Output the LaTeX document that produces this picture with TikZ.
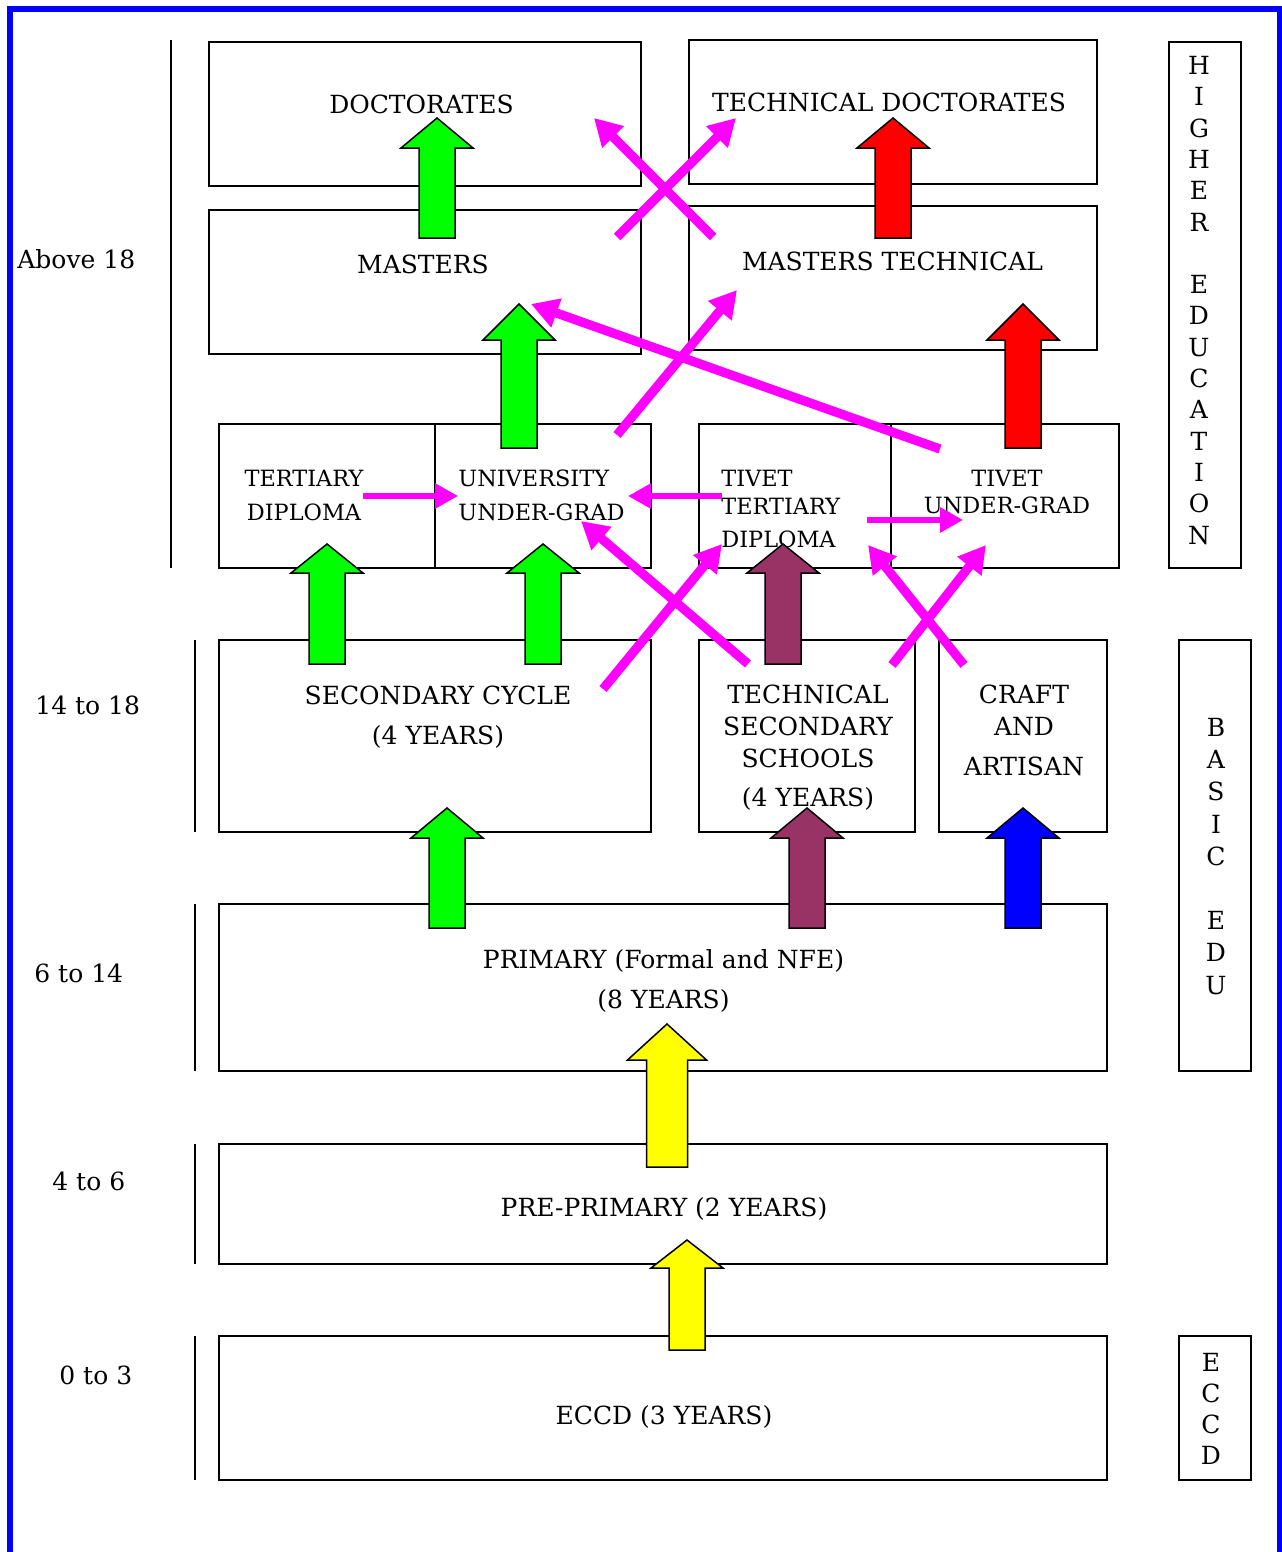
\documentclass[tikz,border=0pt]{standalone}
\usepackage{fontspec}
\setmainfont{DejaVu Serif}
\usetikzlibrary{arrows.meta,fit}
\definecolor{maroonarr}{RGB}{153,51,102}
\definecolor{magarr}{RGB}{255,0,255}
\definecolor{yelarr}{RGB}{255,255,0}
\definecolor{grnarr}{RGB}{0,255,0}
\definecolor{redarr}{RGB}{255,0,0}
\definecolor{bluarr}{RGB}{0,0,255}
\newcommand{\mainsz}{\fontsize{12.5pt}{16pt}\selectfont}
\newcommand{\tertsz}{\fontsize{11.2pt}{17pt}\selectfont}
% block up-arrow: colour, x centre, tip y, head-base y, bottom y, half head, half shaft
\newcommand{\blockup}[7]{%
  \draw[blk, fill=#1] (#2,#3) -- (#2+#6,#4) -- (#2+#7,#4) -- (#2+#7,#5)
    -- (#2-#7,#5) -- (#2-#7,#4) -- (#2-#6,#4) -- cycle;}
\begin{document}
\begin{tikzpicture}[x=0.5pt,y=-0.5pt,
  box/.style={draw, line width=1pt, inner sep=0pt},
  txt/.style={font=\mainsz, inner sep=0pt, align=center},
  ttxt/.style={font=\tertsz, inner sep=0pt},
  blk/.style={draw=black, line width=0.75pt, line join=miter},
  magd/.style={draw=magarr, line width=4.6pt, -{Triangle[length=13.5pt,width=14.5pt]}},
  magh/.style={draw=magarr, line width=3.4pt, -{Triangle[length=11.5pt,width=12pt]}},
  agebar/.style={line width=1pt}]
\useasboundingbox (0,0) rectangle (1281,1552);
\fill[white] (0,0) rectangle (1281,1552);
% blue frame
\draw[bluarr, line width=2.75pt] (10,1552) -- (10,9) -- (1279.5,9) -- (1279.5,1552);
% age bars
\draw[agebar] (171,40) -- (171,568);
\draw[agebar] (195,640) -- (195,832);
\draw[agebar] (195,904) -- (195,1071);
\draw[agebar] (195,1144) -- (195,1264);
\draw[agebar] (195,1336) -- (195,1480);
% boxes
\node[box, fit={(209,42) (641,186)}] (doc) {};
\node[box, fit={(689,40) (1097,184)}] (tdoc) {};
\node[box, fit={(209,210) (641,354)}] (mast) {};
\node[box, fit={(689,206) (1097,350)}] (mtech) {};
\node[box, fit={(219,424) (435,568)}] (tert) {};
\node[box, fit={(435,424) (651,568)}] (univ) {};
\node[box, fit={(699,424) (891,568)}] (tivt) {};
\node[box, fit={(891,424) (1119,568)}] (tivu) {};
\node[box, fit={(219,640) (651,832)}] (sec) {};
\node[box, fit={(699,640) (915,832)}] (tech) {};
\node[box, fit={(939,640) (1107,832)}] (craft) {};
\node[box, fit={(219,904) (1107,1071)}] (prim) {};
\node[box, fit={(219,1144) (1107,1264)}] (pre) {};
\node[box, fit={(219,1336) (1107,1480)}] (eccd) {};
\node[box, fit={(1169,42) (1241,568)}] (higher) {};
\node[box, fit={(1179,640) (1251,1071)}] (basic) {};
\node[box, fit={(1179,1336) (1251,1480)}] (eccdside) {};
% age labels
\node[txt, anchor=base west] (a18) at (17,268) {Above 18};
\node[txt, anchor=base west] (a14) at (35,714) {14 to 18};
\node[txt, anchor=base west] (a6) at (34,982) {6 to 14};
\node[txt, anchor=base west] (a4) at (52,1190) {4 to 6};
\node[txt, anchor=base west] (a0) at (59,1384) {0 to 3};
% box texts (multi-line nodes: base = last line's baseline)
\node[txt, anchor=base] (doct) at (421.5,113) {DOCTORATES};
\node[txt, anchor=base] (tdoct) at (889,112) {TECHNICAL DOCTORATES};
\node[txt, anchor=base] (mastt) at (423,273) {MASTERS};
\node[txt, anchor=base] (mtecht) at (892.5,270) {MASTERS TECHNICAL};
\node[ttxt, align=center, anchor=base] (tertt) at (304,520) {TERTIARY\\DIPLOMA};
\node[ttxt, align=left, anchor=base west] (univt) at (458,520) {UNIVERSITY\\UNDER-GRAD};
\node[ttxt, align=left, anchor=base west] (tivtt) at (721,547) {TIVET\\[-3pt]TERTIARY\\[-0.5pt]DIPLOMA};
\node[ttxt, align=center, anchor=base] (tivut) at (1007,513) {TIVET\\[-3.5pt]UNDER-GRAD};
\node[txt, anchor=base] (sect) at (438,744) {SECONDARY CYCLE\\[4pt](4 YEARS)};
\node[txt, anchor=base] (techt) at (808,806) {TECHNICAL\\SECONDARY\\SCHOOLS\\[3.5pt](4 YEARS)};
\node[txt, anchor=base] (craftt) at (1024,775) {CRAFT\\AND\\[4pt]ARTISAN};
\node[txt, anchor=base] (primt) at (663.5,1008) {PRIMARY (Formal and NFE)\\[4pt](8 YEARS)};
\node[txt, anchor=base] (pret) at (664,1216) {PRE-PRIMARY (2 YEARS)};
\node[txt, anchor=base] (eccdt) at (664,1424) {ECCD (3 YEARS)};
% side stacks
\node[font=\fontsize{12.5pt}{15.65pt}\selectfont, inner sep=0pt, align=center, anchor=base] (highert) at (1199,544)
  {H\\I\\G\\H\\E\\R\\[15.65pt]E\\D\\U\\C\\A\\T\\I\\O\\N};
\node[font=\fontsize{12.5pt}{16.1pt}\selectfont, inner sep=0pt, align=center, anchor=base] (basict) at (1216,994)
  {B\\A\\S\\I\\C\\[16.1pt]E\\D\\U};
\node[font=\fontsize{12.5pt}{15.5pt}\selectfont, inner sep=0pt, align=center, anchor=base] (eccdsidet) at (1211,1464)
  {E\\C\\C\\D};
% block arrows
\blockup{grnarr}{437}{118}{148}{238}{36}{18}
\blockup{redarr}{893}{118}{148}{238}{36}{18}
\blockup{grnarr}{519}{304}{340}{448}{36}{18}
\blockup{redarr}{1023}{304}{340}{448}{36}{18}
\blockup{grnarr}{327}{544}{573}{664}{36}{18}
\blockup{grnarr}{543}{544}{573}{664}{36}{18}
\blockup{maroonarr}{783}{544}{573}{664}{36}{18}
\blockup{grnarr}{447}{808}{838}{928}{36}{18}
\blockup{maroonarr}{807}{808}{838}{928}{36}{18}
\blockup{bluarr}{1023}{808}{838}{928}{36}{18}
\blockup{yelarr}{667}{1024}{1060}{1167}{39.5}{20.5}
\blockup{yelarr}{687}{1240}{1268}{1350}{36}{18}
% magenta connector end points
\coordinate (m1s) at (713,237);  \coordinate (m1e) at (594,118);
\coordinate (m2s) at (617,237);  \coordinate (m2e) at (736,118);
\coordinate (m3s) at (617,435);  \coordinate (m3e) at (737,290);
\coordinate (m4s) at (940,449);  \coordinate (m4e) at (531,304);
\coordinate (m5s) at (363,496);  \coordinate (m5e) at (458,496);
\coordinate (m6s) at (722,496);  \coordinate (m6e) at (628,496);
\coordinate (m7s) at (867,520);  \coordinate (m7e) at (963,520);
\coordinate (m8s) at (748,664);  \coordinate (m8e) at (581,521);
\coordinate (m9s) at (603,689);  \coordinate (m9e) at (722,544);
\coordinate (m10s) at (964,665); \coordinate (m10e) at (868,545);
\coordinate (m11s) at (892,665); \coordinate (m11e) at (986,545);
\draw[magd] (m1s) -- (m1e);
\draw[magd] (m2s) -- (m2e);
\draw[magd] (m3s) -- (m3e);
\draw[magd] (m4s) -- (m4e);
\draw[magh] (m5s) -- (m5e);
\draw[magh] (m6s) -- (m6e);
\draw[magh] (m7s) -- (m7e);
\draw[magd] (m8s) -- (m8e);
\draw[magd] (m9s) -- (m9e);
\draw[magd] (m10s) -- (m10e);
\draw[magd] (m11s) -- (m11e);
\end{tikzpicture}
\end{document}
